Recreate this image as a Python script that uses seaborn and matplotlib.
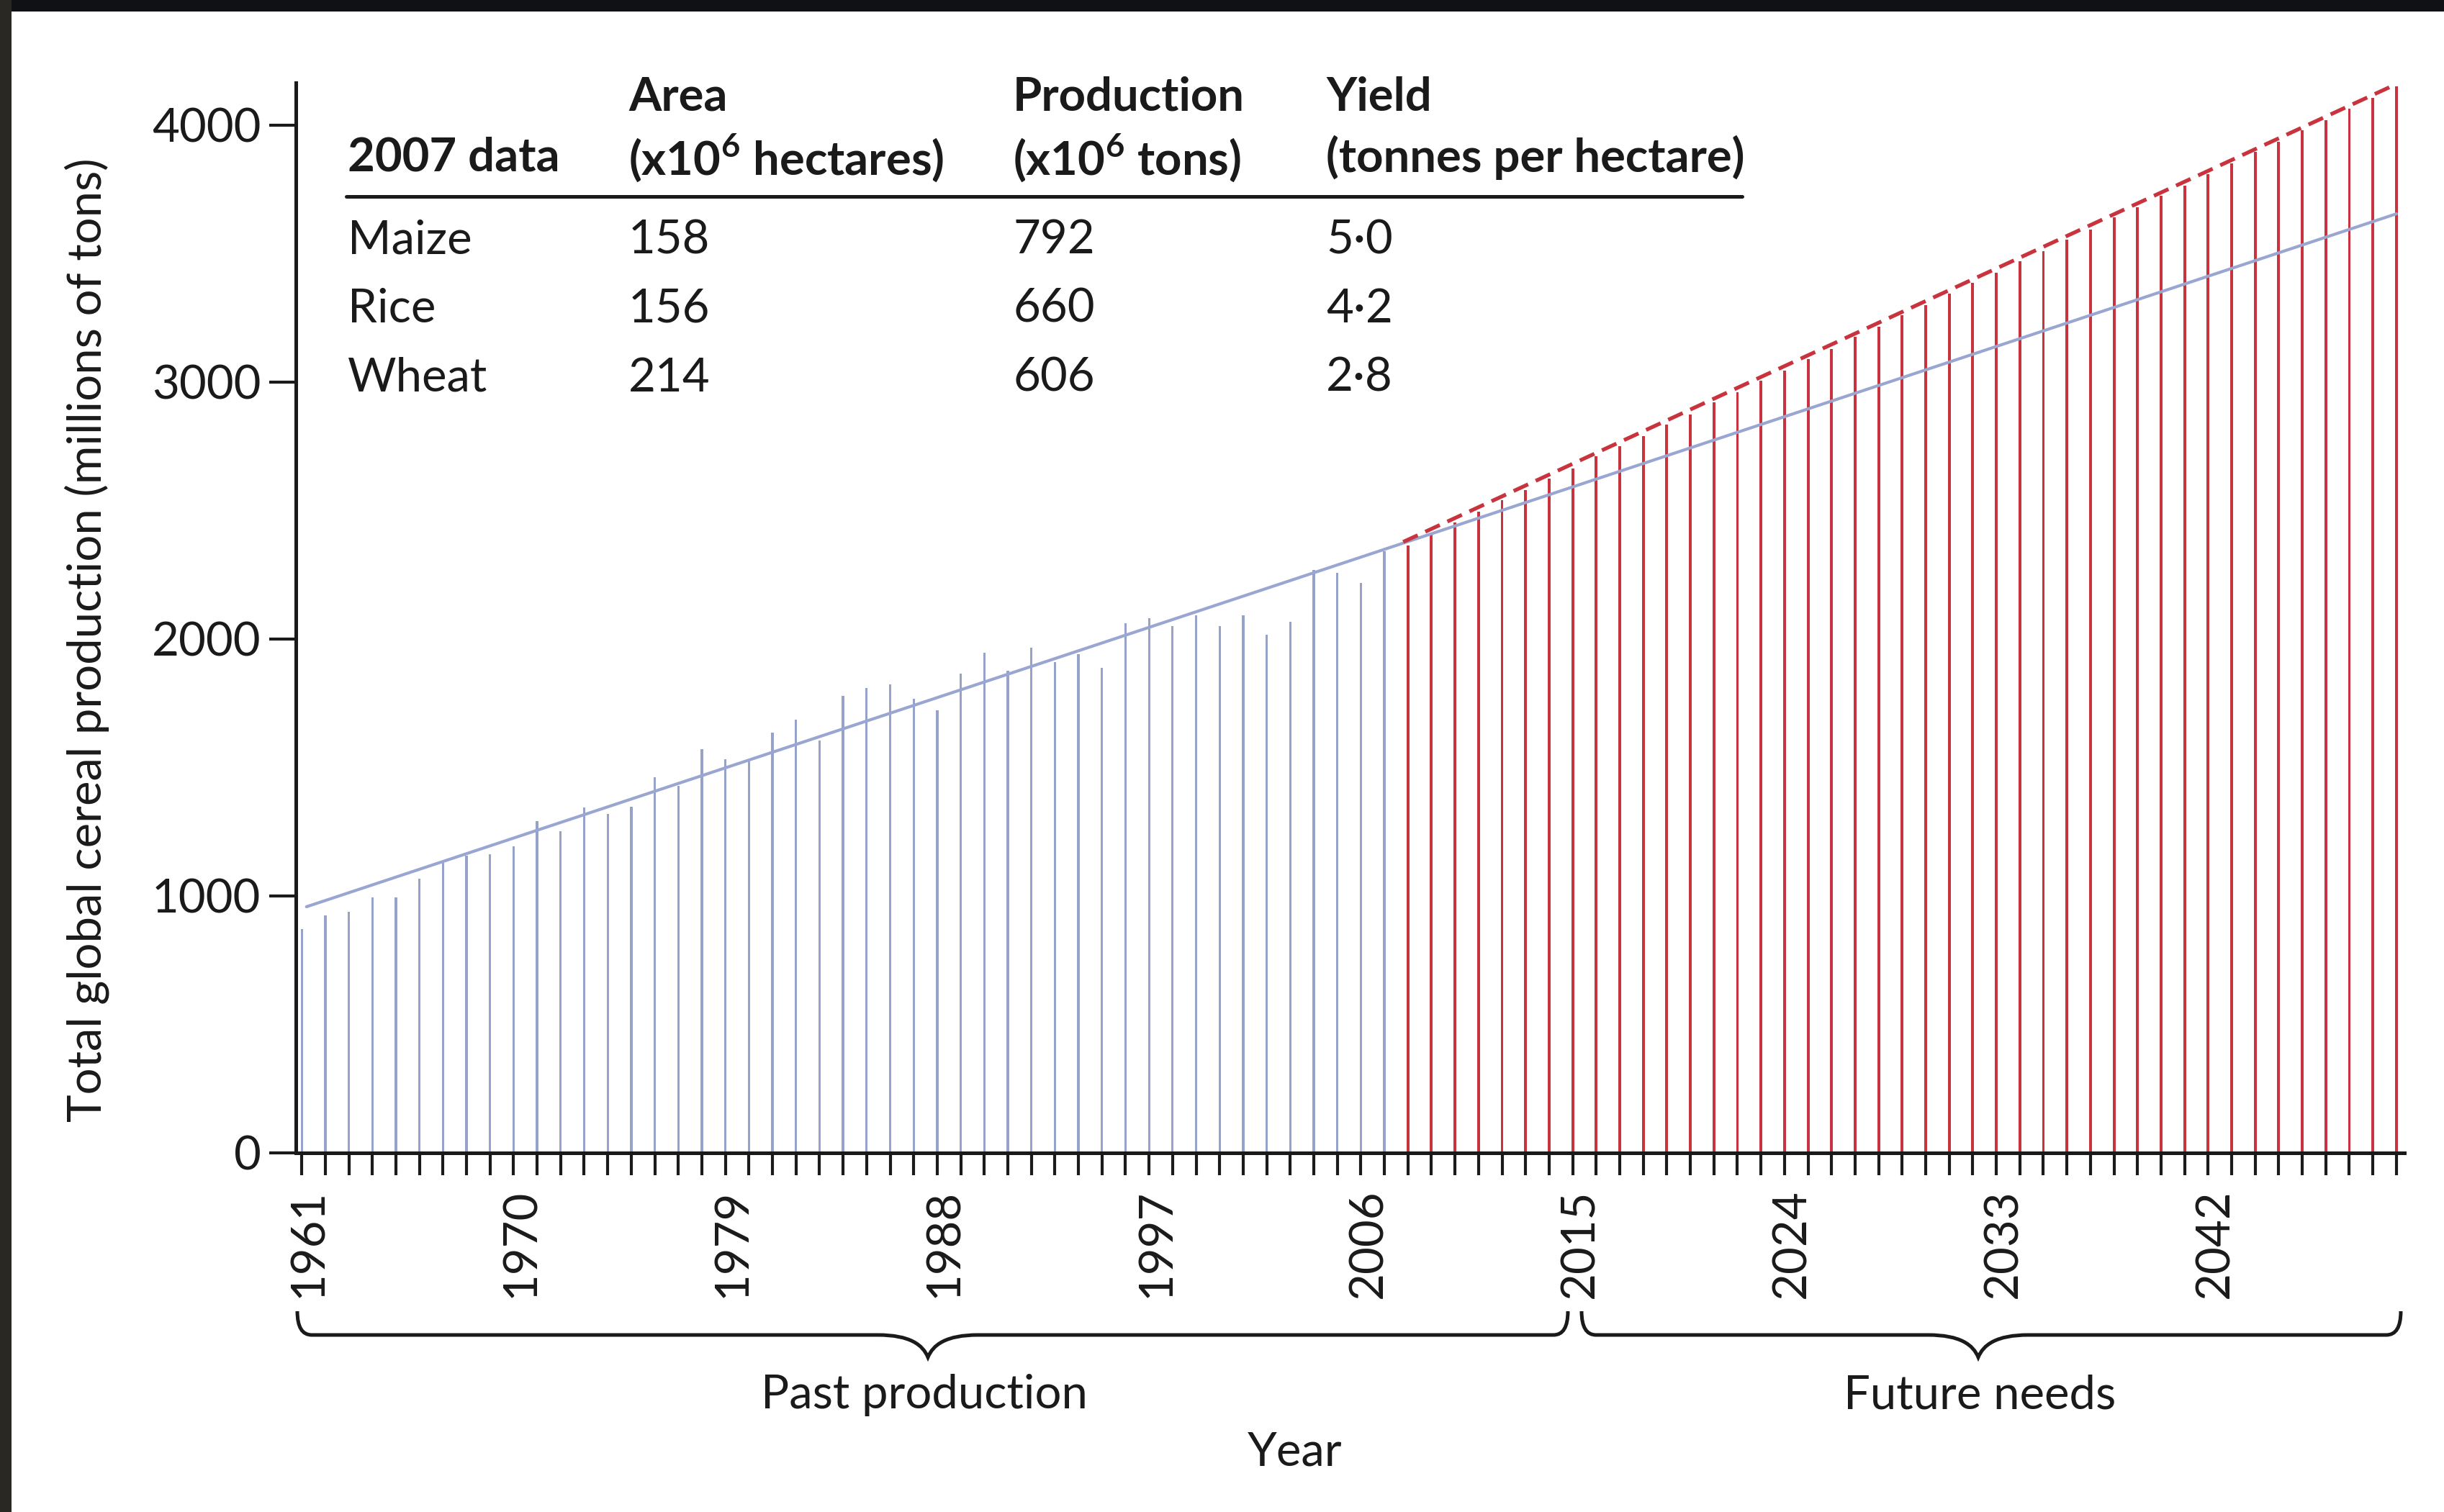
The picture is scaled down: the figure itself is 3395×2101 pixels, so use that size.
import matplotlib
matplotlib.use("Agg")
import matplotlib.pyplot as plt
import matplotlib.transforms as mtransforms
import seaborn as sns
import pandas as pd
from matplotlib.path import Path
from matplotlib.patches import PathPatch, Rectangle

# ---------------- data ----------------
past_years = list(range(1961, 2008))
past_production = [870, 925, 938, 993, 995, 1066, 1134, 1157, 1162, 1194,
                   1291, 1252, 1345, 1318, 1347, 1461, 1429, 1570, 1532, 1524,
                   1636, 1685, 1606, 1778, 1809, 1824, 1767, 1722, 1865, 1948,
                   1877, 1965, 1911, 1940, 1889, 2062, 2080, 2050, 2092, 2050,
                   2092, 2016, 2067, 2270, 2258, 2219, 2341]
future_years = list(range(2008, 2051))
future_needs = [2365, 2410, 2455, 2495, 2540, 2580, 2625, 2665, 2710, 2750,
                2790, 2835, 2875, 2920, 2960, 3005, 3045, 3090, 3130, 3175,
                3215, 3260, 3300, 3345, 3385, 3425, 3470, 3510, 3555, 3595,
                3640, 3680, 3725, 3765, 3810, 3850, 3895, 3935, 3980, 4020,
                4065, 4105, 4150]
trend_years = [1961.2, 2050]
trend_values = [958, 3655]
needs_years = [2007.8, 2050]
needs_values = [2378, 4160]
tick_years = [1961, 1970, 1979, 1988, 1997, 2006, 2015, 2024, 2033, 2042]
y_ticks = [0, 1000, 2000, 3000, 4000]

table_head1 = ["", "Area", "Production", "Yield"]
table_head2 = ["2007 data", r"(x10$^{\mathbf{6}}$ hectares)", r"(x10$^{\mathbf{6}}$ tons)",
               "(tonnes per hectare)"]
table_crops = ["Maize", "Rice", "Wheat"]
table_area = ["158", "156", "214"]
table_production = ["792", "660", "606"]
table_yield = ["5\u00b70", "4\u00b72", "2\u00b78"]

# ---------------- style ----------------
W, H = 3395, 2101
DPI = 200
sns.set_theme(style="ticks")
plt.rcParams["font.family"] = ["Lato", "DejaVu Sans"]
plt.rcParams["mathtext.fontset"] = "custom"
plt.rcParams["mathtext.rm"] = "Lato"
plt.rcParams["mathtext.bf"] = "Lato:bold"
plt.rcParams["text.color"] = "#1a1a1a"

BLUE_BAR = "#97a2cb"
BLUE_LINE = "#9aa6d2"
RED = "#c8333d"
INK = "#1a1a1a"
FS = 23.5

def fx(x):
    return x / W

def fy(y):
    return 1 - y / H

fig = plt.figure(figsize=(W / DPI, H / DPI), dpi=DPI, facecolor="white")
ax = fig.add_axes([fx(411), fy(1602), fx(3340) - fx(411), fy(115) - fy(1602)])
ax.set_facecolor("white")

past_df = pd.DataFrame({"year": past_years, "production": past_production})
future_df = pd.DataFrame({"year": future_years, "production": future_needs})

sns.barplot(data=past_df, x="year", y="production", native_scale=True, width=0.1,
            color=BLUE_BAR, saturation=1, linewidth=0, errorbar=None, ax=ax)
sns.barplot(data=future_df, x="year", y="production", native_scale=True, width=0.12,
            color=RED, saturation=1, linewidth=0, errorbar=None, ax=ax)
sns.lineplot(x=trend_years, y=trend_values, color=BLUE_LINE, linewidth=1.5, ax=ax)
sns.lineplot(x=needs_years, y=needs_values, color=RED, linewidth=1.9,
             linestyle=(0, (4.2, 2.2)), ax=ax)

ax.set_xlim(1960.75, 2050.34)
ax.set_ylim(0, 4165)
ax.set_xticks(list(range(1961, 2051)))
ax.set_xticklabels([str(y) if y in tick_years else "" for y in range(1961, 2051)],
                   rotation=90, fontsize=FS)
ax.set_yticks(y_ticks)
ax.set_yticklabels([str(v) for v in y_ticks], fontsize=FS)
ax.tick_params(axis="x", direction="out", length=11, width=1.5, color=INK, pad=7,
               labelcolor=INK)
ax.tick_params(axis="y", direction="out", length=13.5, width=1.5, color=INK, pad=4,
               labelcolor=INK)
shift = mtransforms.ScaledTranslation(0.05, 0, fig.dpi_scale_trans)
for tick in ax.xaxis.get_major_ticks():
    tick.label1.set_transform(tick.label1.get_transform() + shift)
ax.set_xlabel("")
ax.set_ylabel("")
sns.despine(ax=ax)
for s in ("left", "bottom"):
    ax.spines[s].set_linewidth(1.8)
    ax.spines[s].set_color(INK)
ax.grid(False)

# y label
fig.text(fx(121), fy(889), "Total global cereal production (millions of tons)",
         rotation=90, ha="center", va="center", fontsize=FS)

# table
cols = [483, 873, 1407, 1842]
for c, t in zip(cols, table_head1):
    if t:
        fig.text(fx(c), fy(135), t, ha="left", va="center", fontsize=FS, fontweight="bold")
for c, t in zip(cols, table_head2):
    fig.text(fx(c), fy(219), t, ha="left", va="center", fontsize=FS, fontweight="bold")
fig.add_artist(plt.Line2D([fx(481), fx(2420)], [fy(273), fy(273)], color=INK,
                          linewidth=1.8, transform=fig.transFigure))
rows_y = [334, 429, 525]
for i, ry in enumerate(rows_y):
    for c, col in zip(cols, [table_crops, table_area, table_production, table_yield]):
        fig.text(fx(c), fy(ry), col[i], ha="left", va="center", fontsize=FS)

# braces
def brace(x0, x1, xm, y_hook, y_line, y_tip, r=20, w=70):
    pts = [
        (x0, y_hook), (x0, y_line), (x0 + r, y_line),
        (xm - w, y_line),
        (xm - w * 0.35, y_line), (xm - w * 0.1, y_line + 0.45 * (y_tip - y_line)), (xm, y_tip),
        (xm + w * 0.1, y_line + 0.45 * (y_tip - y_line)), (xm + w * 0.35, y_line), (xm + w, y_line),
        (x1 - r, y_line),
        (x1, y_line), (x1, y_hook),
    ]
    codes = [Path.MOVETO, Path.CURVE3, Path.CURVE3, Path.LINETO,
             Path.CURVE4, Path.CURVE4, Path.CURVE4,
             Path.CURVE4, Path.CURVE4, Path.CURVE4,
             Path.LINETO, Path.CURVE3, Path.CURVE3]
    verts = [(fx(x), fy(y)) for x, y in pts]
    fig.add_artist(PathPatch(Path(verts, codes), facecolor="none", edgecolor=INK,
                             linewidth=1.8, transform=fig.transFigure))

brace(413, 2178, 1289, 1822, 1855, 1886)
brace(2197, 3335, 2748, 1822, 1855, 1886)
fig.text(fx(1284), fy(1939), "Past production", ha="center", va="center", fontsize=FS)
fig.text(fx(2750), fy(1939), "Future needs", ha="center", va="center", fontsize=FS)
fig.text(fx(1799), fy(2018), "Year", ha="center", va="center", fontsize=FS)

# dark photo border on top and left
fig.add_artist(Rectangle((0, fy(16)), 1, 16 / H, transform=fig.transFigure,
                         facecolor="#101114", edgecolor="none"))
fig.add_artist(Rectangle((0, 0), 16 / W, 1, transform=fig.transFigure,
                         facecolor="#2a2822", edgecolor="none"))

fig.savefig("out.png", dpi=DPI, facecolor="white")
